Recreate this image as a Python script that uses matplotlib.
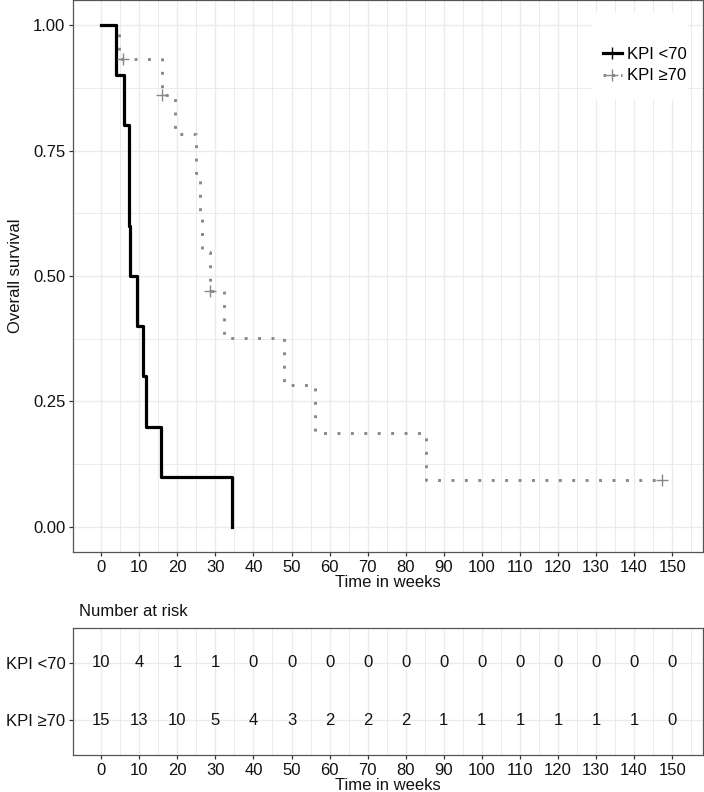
import numpy as np
import matplotlib
matplotlib.use("Agg")
import matplotlib.pyplot as plt
from matplotlib.lines import Line2D
from matplotlib.patches import Rectangle

plt.rcParams['font.family'] = ['Liberation Sans', 'DejaVu Sans']

# survival data (weeks, 1 = death, 0 = censored)
low_times = [4, 5.9, 7.2, 7.4, 7.7, 9.4, 11.1, 11.7, 15.8, 34.3]
low_events = [1, 1, 1, 1, 1, 1, 1, 1, 1, 1]
high_times = [4.8, 5.7, 16.1, 16.1, 19.5, 24.9, 25.9, 26.6, 28.5, 28.5,
              32.2, 47.9, 56.2, 85.4, 147.3]
high_events = [1, 0, 1, 0, 1, 1, 1, 1, 1, 0, 1, 1, 1, 1, 0]

group_labels = ["KPI <70", "KPI \u226570"]
risk_times = list(range(0, 151, 10))
risk_low = [10, 4, 1, 1, 0, 0, 0, 0, 0, 0, 0, 0, 0, 0, 0, 0]
risk_high = [15, 13, 10, 5, 4, 3, 2, 2, 2, 1, 1, 1, 1, 1, 1, 0]

GRID = '#ebebeb'
BORDER = '#555555'
TXT = '#111111'
GRAY = '#888888'
FS = 12


def kaplan_meier(times, events):
    times = np.asarray(times, float)
    events = np.asarray(events, int)
    xs, ys, cens = [0.0], [1.0], []
    s = 1.0
    for t in np.unique(times):
        n = np.sum(times >= t)
        d = np.sum(events[times == t])
        if d > 0:
            s *= (n - d) / n
            xs.append(t)
            ys.append(s)
        if np.any((times == t) & (events == 0)):
            cens.append((t, s))
    if times.max() > xs[-1]:
        xs.append(times.max())
        ys.append(s)
    return np.array(xs), np.array(ys), cens


def style_axes(ax, ylim):
    ax.set_xlim(-7.4, 158.1)
    ax.set_ylim(*ylim)
    ax.set_xticks(risk_times)
    ax.set_xticks(np.arange(5, 160, 10), minor=True)
    ax.grid(which='major', color=GRID, lw=1.0)
    ax.grid(which='minor', axis='x', color=GRID, lw=0.7)
    ax.set_axisbelow(True)
    for sp in ax.spines.values():
        sp.set_color(BORDER)
        sp.set_linewidth(0.9)
    ax.tick_params(which='major', length=3, width=0.9, color='#333333',
                   labelsize=FS, labelcolor=TXT, pad=2.5)
    ax.tick_params(which='minor', length=0)


fig = plt.figure(figsize=(7.04, 7.92), dpi=100)
W, H = 704, 792

# main survival panel
ax = fig.add_axes([73 / W, 1 - 552 / H, 630 / W, 552 / H])
style_axes(ax, (-0.05, 1.05))
ax.set_yticks([0, 0.25, 0.5, 0.75, 1.0])
ax.set_yticklabels(["0.00", "0.25", "0.50", "0.75", "1.00"])
ax.set_yticks(np.arange(0.125, 1.0, 0.25), minor=True)
ax.grid(which='minor', axis='y', color=GRID, lw=0.7)

x1, y1, c1 = kaplan_meier(low_times, low_events)
x2, y2, c2 = kaplan_meier(high_times, high_events)

ax.step(x2, y2, where='post', color=GRAY, lw=2.1,
        linestyle=(0, (1, 3.6)), zorder=3)
ax.step(x1, y1, where='post', color='black', lw=2.3, zorder=4)
if c1:
    ax.plot([c[0] for c in c1], [c[1] for c in c1], '+', color='black',
            ms=8, mew=1.0, zorder=5)
ax.plot([c[0] for c in c2], [c[1] for c in c2], '+', color=GRAY,
        ms=8, mew=1.0, zorder=5)

ax.set_xlabel("Time in weeks", fontsize=FS, color=TXT, labelpad=0)
ax.set_ylabel("Overall survival", fontsize=FS, color=TXT, labelpad=7)

# legend background box (hides the grid like the original)
ax.add_patch(Rectangle((0.824, 0.819), 0.152, 0.159, transform=ax.transAxes,
                       facecolor='white', edgecolor='none', zorder=1))
handles = [
    Line2D([], [], color='black', lw=2.3, marker='+', ms=8, mew=1.0),
    Line2D([], [], color=GRAY, lw=2.1, linestyle=(0, (1, 2)),
           marker='+', ms=8, mew=1.0),
]
ax.legend(handles, group_labels, loc='center left',
          bbox_to_anchor=(0.841, 0.882), fontsize=FS, frameon=False,
          handlelength=1.15, handletextpad=0.3, labelspacing=0.4,
          borderpad=0, borderaxespad=0)

# number at risk table
axr = fig.add_axes([73 / W, 1 - 755 / H, 630 / W, 127 / H])
style_axes(axr, (0.4, 2.6))
axr.set_yticks([2, 1])
axr.set_yticklabels(group_labels)
for t, a, b in zip(risk_times, risk_low, risk_high):
    axr.text(t, 2, str(a), ha='center', va='center', fontsize=FS, color=TXT)
    axr.text(t, 1, str(b), ha='center', va='center', fontsize=FS, color=TXT)
axr.set_xlabel("Time in weeks", fontsize=FS, color=TXT, labelpad=0)
fig.text(79 / W, 1 - 612 / H, "Number at risk", fontsize=FS, color=TXT,
         ha='left', va='center')

fig.savefig("out.png", dpi=100, facecolor='white')
